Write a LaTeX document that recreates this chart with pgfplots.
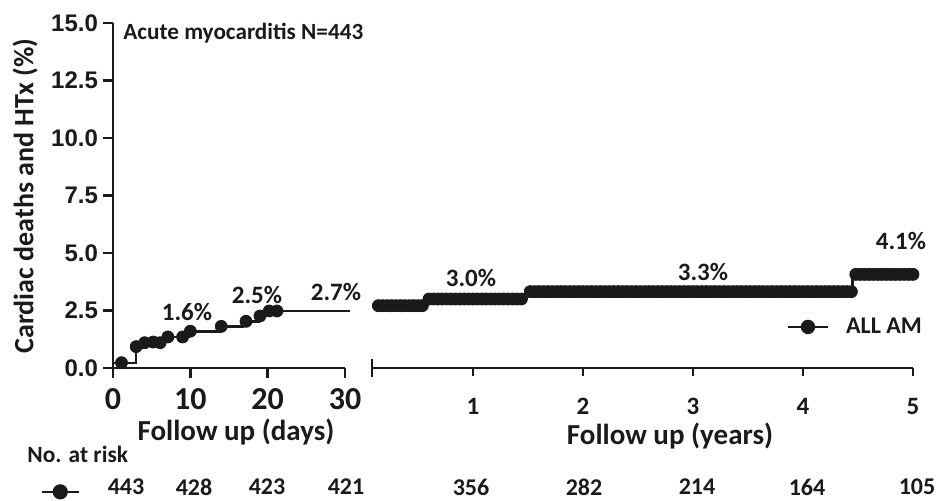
\documentclass[border=0pt]{standalone}
\usepackage{pgfplots}
\pgfplotsset{compat=1.18}
\usepackage{fontspec}
\setmainfont{Carlito}
\newfontfamily\arialf{Liberation Sans}
\definecolor{ink}{HTML}{1A1A1A}
\begin{document}
\begin{tikzpicture}[every node/.style={text=ink}]
\path[use as bounding box] (0,0) rectangle (468.5pt,250pt);
% ---------- left panel (days) ----------
\begin{axis}[
  at={(56.5pt,66pt)}, anchor=south west,
  scale only axis, width=116pt, height=172.5pt,
  xmin=0, xmax=30, ymin=0, ymax=15,
  clip=false,
  axis x line=bottom, axis y line=left,
  axis line style={-, line width=1.3pt, ink},
  tick style={line width=1.3pt, ink},
  tick align=outside, major tick length=5pt,
  xtick={0,10,20,30}, xticklabels={0,10,20,30},
  ytick={0,2.5,5,7.5,10,12.5,15},
  yticklabels={0.0,2.5,5.0,7.5,10.0,12.5,15.0},
  xticklabel style={font=\fontsize{16}{18}\selectfont\bfseries, yshift=-1.5pt},
  yticklabel style={font=\arialf\fontsize{12}{14}\selectfont\bfseries, xshift=1pt},
  legend style={draw=none, fill=none, at={(-0.315,-0.359)}, anchor=west,
    inner sep=0pt, font=\fontsize{11}{13}\selectfont\bfseries},
  legend image code/.code={\draw[#1, mark=none] (0cm,0cm) -- (0.66cm,0cm); \draw[#1] plot coordinates {(0.33cm,0cm)};},
]
\addlegendimage{ink, line width=1.2pt, mark=*, mark size=3.2pt}
\addlegendentry{}
\addplot[const plot, ink, line width=1.2pt, forget plot] coordinates {
 (0,0.23) (3,0.90) (3.7,1.13) (6.8,1.35) (9.8,1.58) (13.8,1.81)
 (16.8,2.03) (18.8,2.26) (19.8,2.48) (30.6,2.48)};
\addplot[only marks, mark=*, mark size=3pt, ink, forget plot] coordinates {
 (1.1,0.23) (3,0.93) (4.1,1.10) (5.2,1.13) (6.1,1.10) (7.1,1.35) (9,1.35)
 (10,1.60) (14,1.81) (17.2,2.03) (19,2.26) (20.2,2.48) (21.2,2.48)};
\end{axis}
% ---------- right panel (years) ----------
\begin{axis}[
  at={(186pt,66pt)}, anchor=south west,
  scale only axis, width=270.5pt, height=172.5pt,
  xmin=0.0821, xmax=5, ymin=0, ymax=15,
  clip=false,
  axis x line=bottom, axis y line=none,
  axis line style={-, line width=1.3pt, ink},
  tick style={line width=1.3pt, ink},
  tick align=outside, major tick length=4pt,
  xtick={1,2,3,4,5}, xticklabels={1,2,3,4,5},
  extra x ticks={0.0821}, extra x tick labels={},
  extra x tick style={tick align=center, major tick length=9pt},
  xticklabel style={font=\fontsize{12.5}{14}\selectfont\bfseries, inner sep=0pt, yshift=-11pt},
  legend style={draw=none, fill=none, at={(0.755,0.119)}, anchor=west,
    font=\fontsize{12}{14}\selectfont\bfseries},
  legend image code/.code={\draw[#1, mark=none] (0cm,0cm) -- (0.7cm,0cm); \draw[#1] plot coordinates {(0.35cm,0cm)};},
]
\addlegendimage{ink, line width=1.2pt, mark=*, mark size=3pt}
\addlegendentry{\hspace{6.5pt}ALL AM}
\addplot[const plot, ink, line width=1.2pt, forget plot] coordinates {
 (0.0821,2.71) (0.58,3.00) (1.49,3.32) (4.45,4.07) (5.0,4.07)};
\addplot[only marks, mark=*, mark size=3pt, ink, forget plot] coordinates {
 (0.14,2.71) (0.18,2.71) (0.22,2.71) (0.26,2.71) (0.30,2.71) (0.34,2.71)
 (0.38,2.71) (0.42,2.71) (0.46,2.71) (0.50,2.71) (0.54,2.71)
 (0.60,3.00) (0.64,3.00) (0.68,3.00) (0.72,3.00) (0.76,3.00) (0.80,3.00)
 (0.84,3.00) (0.88,3.00) (0.92,3.00) (0.96,3.00) (1.00,3.00) (1.04,3.00)
 (1.08,3.00) (1.12,3.00) (1.16,3.00) (1.20,3.00) (1.24,3.00) (1.28,3.00)
 (1.32,3.00) (1.36,3.00) (1.40,3.00) (1.44,3.00)
 (1.52,3.32) (1.56,3.32) (1.60,3.32) (1.64,3.32) (1.68,3.32) (1.72,3.32)
 (1.76,3.32) (1.80,3.32) (1.84,3.32) (1.88,3.32) (1.92,3.32) (1.96,3.32)
 (2.00,3.32) (2.04,3.32) (2.08,3.32) (2.12,3.32) (2.16,3.32) (2.20,3.32)
 (2.24,3.32) (2.28,3.32) (2.32,3.32) (2.36,3.32) (2.40,3.32) (2.44,3.32)
 (2.48,3.32) (2.52,3.32) (2.56,3.32) (2.60,3.32) (2.64,3.32) (2.68,3.32)
 (2.72,3.32) (2.76,3.32) (2.80,3.32) (2.84,3.32) (2.88,3.32) (2.92,3.32)
 (2.96,3.32) (3.00,3.32) (3.04,3.32) (3.08,3.32) (3.12,3.32) (3.16,3.32)
 (3.20,3.32) (3.24,3.32) (3.28,3.32) (3.32,3.32) (3.36,3.32) (3.40,3.32)
 (3.44,3.32) (3.48,3.32) (3.52,3.32) (3.56,3.32) (3.60,3.32) (3.64,3.32)
 (3.68,3.32) (3.72,3.32) (3.76,3.32) (3.80,3.32) (3.84,3.32) (3.88,3.32)
 (3.92,3.32) (3.96,3.32) (4.00,3.32) (4.04,3.32) (4.08,3.32) (4.12,3.32)
 (4.16,3.32) (4.20,3.32) (4.24,3.32) (4.28,3.32) (4.32,3.32) (4.36,3.32)
 (4.40,3.32) (4.44,3.32)
 (4.48,4.07) (4.52,4.07) (4.56,4.07) (4.60,4.07) (4.64,4.07) (4.68,4.07)
 (4.72,4.07) (4.76,4.07) (4.80,4.07) (4.84,4.07) (4.88,4.07) (4.92,4.07)
 (4.96,4.07) (5.00,4.07)};
\end{axis}
% ---------- texts ----------
\node[font=\fontsize{14}{16}\selectfont\bfseries, rotate=90] at (12.5pt,152pt) {Cardiac deaths and HTx (\%)};
\node[font=\fontsize{11.6}{13}\selectfont\bfseries, anchor=west, inner sep=0pt] at (61.5pt,233.5pt) {Acute myocarditis N=443};
\begin{scope}[every node/.style={font=\fontsize{12.5}{14}\selectfont\bfseries, text=ink}]
\node at (93.5pt,94pt) {1.6\%};
\node at (128.5pt,102.5pt) {2.5\%};
\node at (168pt,104pt) {2.7\%};
\node at (235.5pt,111pt) {3.0\%};
\node at (351.5pt,114pt) {3.3\%};
\node at (450.5pt,129.5pt) {4.1\%};
\end{scope}
\node[font=\fontsize{14.5}{16}\selectfont\bfseries, inner sep=0pt] at (118pt,34pt) {Follow up (days)};
\node[font=\fontsize{14.5}{16}\selectfont\bfseries, inner sep=0pt] at (335pt,32pt) {Follow up (years)};
\node[font=\fontsize{11.7}{13}\selectfont\bfseries, anchor=west, inner sep=0pt] at (13.5pt,23pt) {No. at risk};
\begin{scope}[every node/.style={font=\fontsize{12}{13}\selectfont\bfseries, text=ink, inner sep=0pt}]
\node at (63pt,6.5pt) {443};
\node at (97pt,6.5pt) {428};
\node at (133.5pt,6.5pt) {423};
\node at (173pt,6.5pt) {421};
\node at (235.5pt,6.5pt) {356};
\node at (292pt,6.5pt) {282};
\node at (348.5pt,6.5pt) {214};
\node at (403.5pt,6.5pt) {164};
\node at (458.5pt,6.5pt) {105};
\end{scope}
\end{tikzpicture}
\end{document}
